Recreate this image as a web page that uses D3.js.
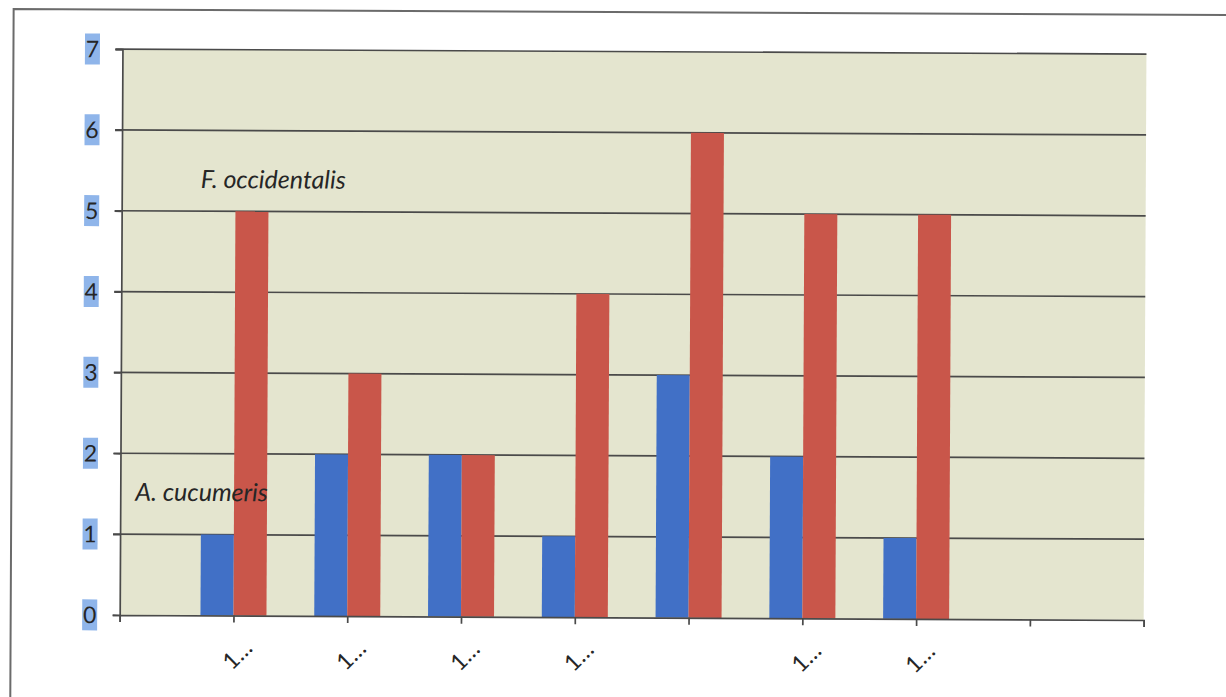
<!DOCTYPE html>
<html>
<head>
<meta charset="utf-8">
<script src="https://cdn.jsdelivr.net/npm/d3@7"></script>
<style>
  html, body { margin: 0; padding: 0; background: #ffffff; }
  svg { display: block; }
</style>
</head>
<body>
<svg id="chart" width="1226" height="697"></svg>
<script>
// Category slots along the x axis (first, middle and last slots carry no label)
const categories = ["", "1…", "1…", "1…", "1…", "", "1…", "1…", "", ""];
// Counts per slot for each species
const aCucumeris    = [null, 1, 2, 2, 1, 3, 2, 1, null, null];
const fOccidentalis = [null, 5, 3, 2, 4, 6, 5, 5, null, null];
// Value axis ticks
const yTicks = [0, 1, 2, 3, 4, 5, 6, 7];

const svg = d3.select("#chart");

// whole page sits very slightly tilted
const root = svg.append("g").attr("transform", "rotate(0.28, 613, 348)");

// outer frame (left and top edges visible)
root.append("path")
  .attr("d", "M12,720 L12,12 L1240,12")
  .attr("fill", "none")
  .attr("stroke", "#6b6b6b")
  .attr("stroke-width", 2);

const plot = { left: 121, right: 1145, top: 51.5, bottom: 617.4 };

const x = d3.scalePoint()
  .domain(d3.range(categories.length))
  .range([plot.left, plot.right]);

const y = d3.scaleLinear()
  .domain([0, 7])
  .range([plot.bottom, plot.top]);

const barW = 33;
const font = "Lato, 'Open Sans', sans-serif";

// plot background
root.append("rect")
  .attr("x", plot.left).attr("y", plot.top)
  .attr("width", plot.right - plot.left)
  .attr("height", plot.bottom - plot.top)
  .attr("fill", "#e4e5cf");

// horizontal gridlines (extend over the tick marks)
root.append("g")
  .selectAll("line")
  .data(yTicks.filter(d => d > 0))
  .join("line")
  .attr("x1", plot.left - 7)
  .attr("x2", plot.right)
  .attr("y1", d => y(d))
  .attr("y2", d => y(d))
  .attr("stroke", "#4a4a4a")
  .attr("stroke-width", 1.7);

// bars
const bars = root.append("g");
bars.selectAll("rect.blue")
  .data(aCucumeris.map((v, i) => ({ i, v })).filter(d => d.v != null))
  .join("rect")
  .attr("class", "blue")
  .attr("x", d => x(d.i) - barW)
  .attr("y", d => y(d.v))
  .attr("width", barW)
  .attr("height", d => y(0) - y(d.v))
  .attr("fill", "#4170c6");

bars.selectAll("rect.red")
  .data(fOccidentalis.map((v, i) => ({ i, v })).filter(d => d.v != null))
  .join("rect")
  .attr("class", "red")
  .attr("x", d => x(d.i))
  .attr("y", d => y(d.v))
  .attr("width", barW)
  .attr("height", d => y(0) - y(d.v))
  .attr("fill", "#c9564a");

// y axis
const yAxis = root.append("g")
  .attr("transform", `translate(${plot.left},0)`)
  .call(d3.axisLeft(y).tickValues(yTicks).tickSize(7).tickFormat(""));
yAxis.selectAll("path, line").attr("stroke", "#4a4a4a").attr("stroke-width", 1.7);

// x axis
const xAxis = root.append("g")
  .attr("transform", `translate(0,${plot.bottom})`)
  .call(d3.axisBottom(x).tickSize(7).tickSizeOuter(7).tickFormat(""));
xAxis.selectAll("path, line").attr("stroke", "#4a4a4a").attr("stroke-width", 1.7);

// y tick labels with highlight boxes
const yl = root.append("g").selectAll("g").data(yTicks).join("g")
  .attr("transform", d => `translate(91,${y(d)})`);
yl.append("rect")
  .attr("x", -7.5).attr("y", -15.5)
  .attr("width", 15).attr("height", 31)
  .attr("fill", "#8fb5ea");
yl.append("text")
  .attr("text-anchor", "middle")
  .attr("dy", "0.36em")
  .attr("font-family", font)
  .attr("font-size", 23)
  .attr("fill", "#262626")
  .text(d => d);

// x tick labels, rotated
root.append("g")
  .selectAll("text")
  .data(categories.map((c, i) => ({ c, i })).filter(d => d.c !== ""))
  .join("text")
  .attr("transform", d => `translate(${x(d.i) + 4},${plot.bottom + 39}) rotate(-45)`)
  .attr("text-anchor", "middle")
  .attr("dy", "0.35em")
  .attr("font-family", font)
  .attr("font-size", 23)
  .attr("fill", "#262626")
  .text(d => d.c);

// species annotations
root.append("text")
  .attr("x", 200).attr("y", 190)
  .attr("font-family", font)
  .attr("font-style", "italic")
  .attr("font-size", 25)
  .attr("fill", "#262626")
  .text("F. occidentalis");

root.append("text")
  .attr("x", 136).attr("y", 503)
  .attr("font-family", font)
  .attr("font-style", "italic")
  .attr("font-size", 25)
  .attr("fill", "#262626")
  .text("A. cucumeris");
</script>
</body>
</html>
